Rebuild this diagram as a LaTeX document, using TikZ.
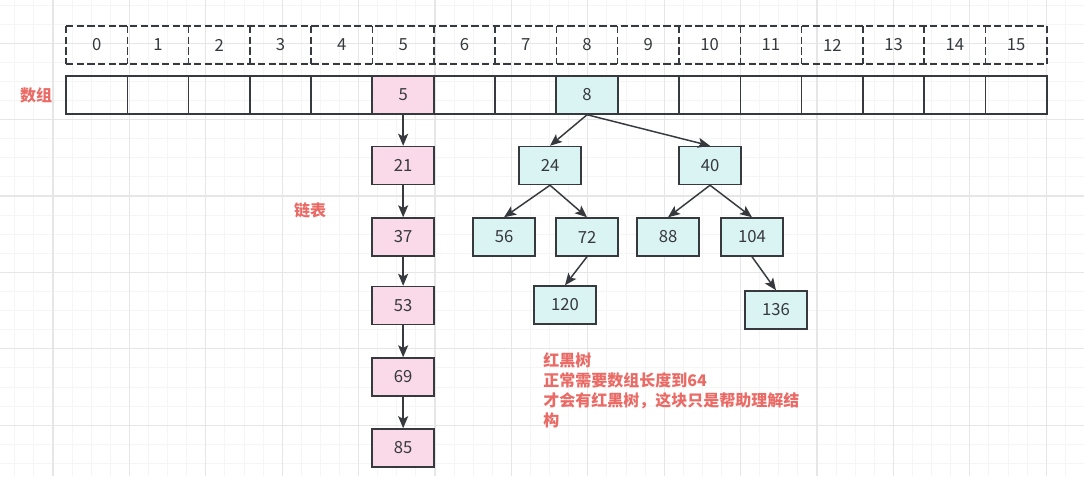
\documentclass[tikz,border=0pt]{standalone}
\usepackage{fontspec}
\setmainfont{Noto Sans CJK SC}
\usetikzlibrary{positioning}
\usetikzlibrary{arrows.meta}

\definecolor{inkgray}{RGB}{54,57,61}
\definecolor{notered}{RGB}{234,107,102}
\definecolor{listpink}{RGB}{250,217,233}
\definecolor{treecyan}{RGB}{218,243,243}
\definecolor{gridminor}{RGB}{245,245,245}
\definecolor{gridmajor}{RGB}{230,230,230}

\tikzset{
  cell/.style={draw=inkgray, line width=1.1pt, minimum width=46pt,
    minimum height=28.5pt, inner sep=0pt, text=inkgray,
    font=\fontsize{12.5}{14}\selectfont},
  idxcell/.style={cell, draw=none, outer sep=0pt},
  idxline/.style={draw=inkgray, line width=1.1pt, dash pattern=on 5.5pt off 2.5pt},
  listnode/.style={cell, fill=listpink, minimum width=46.5pt},
  treenode/.style={cell, fill=treecyan, minimum width=46.5pt},
  link/.style={draw=inkgray, line width=1.1pt,
    -{Stealth[length=9pt,width=7.5pt,inset=2pt]}},
  note/.style={text=notered, font=\fontsize{12}{15}\selectfont\bfseries},
}

\begin{document}
\begin{tikzpicture}[x=0.75pt, y=-0.75pt]
  \useasboundingbox (0,0) rectangle (1084,476);
  \fill[white] (0,0) rectangle (1084,476);

  % background grid
  \begin{scope}
    \clip (0,0) rectangle (1084,476);
    \foreach \k in {-3,...,56}
      \draw[gridminor, line width=0.75pt] (53+19.1*\k,0) -- (53+19.1*\k,476);
    \foreach \k in {-3,...,23}
      \draw[gridminor, line width=0.75pt] (0,43.2+19.1*\k) -- (1084,43.2+19.1*\k);
    \foreach \k in {-1,...,14}
      \draw[gridmajor, line width=0.9pt] (53+76.4*\k,0) -- (53+76.4*\k,476);
    \foreach \k in {-1,...,6}
      \draw[gridmajor, line width=0.9pt] (0,43.2+76.4*\k) -- (1084,43.2+76.4*\k);
  \end{scope}

  % index row and array row
  \foreach \i in {0,...,15}
    \node[idxcell] (idx\i) at (96.65+61.3*\i,45) {\i};
  \draw[idxline] (idx0.north west) -- (idx15.north east);
  \draw[idxline] (idx0.south west) -- (idx15.south east);
  \foreach \i in {0,...,15}
    \draw[idxline] (idx\i.north west) -- (idx\i.south west);
  \draw[idxline] (idx15.north east) -- (idx15.south east);

  \foreach \i in {0,...,15}
    \node[cell] (arr\i) at (96.65+61.3*\i,95) {};
  \node[listnode] (head5) at (arr5) {5};
  \node[treenode] (root8) at (arr8) {8};

  \node[note] (arrlabel) at (36,95) {数组};
  \node[note] (listlabel) at (310,210) {链表};

  % linked list
  \node[listnode, below=23.3pt of head5] (l21) {21};
  \node[listnode, below=24pt of l21] (l37) {37};
  \node[listnode, below=21.8pt of l37] (l53) {53};
  \node[listnode, below=24pt of l53] (l69) {69};
  \node[listnode, below=23.6pt of l69] (l85) {85};

  % red-black tree
  \node[treenode] (t24) at (550,165.5) {24};
  \node[treenode] (t40) at (710,165.5) {40};
  \node[treenode] (t56) at (504,237) {56};
  \node[treenode] (t72) at (587,237) {72};
  \node[treenode] (t88) at (668,237) {88};
  \node[treenode] (t104) at (752,237) {104};
  \node[treenode] (t120) at (565,305) {120};
  \node[treenode] (t136) at (776,310) {136};

  \node[note, align=left, anchor=north west, inner sep=0pt] (treenote) at (543,352)
    {红黑树\\正常需要数组长度到64\\才会有红黑树，这块只是帮助理解结\\构};

  \foreach \a/\b in {head5/l21, l21/l37, l37/l53, l53/l69, l69/l85}
    \draw[link] (\a) -- (\b);
  \foreach \a/\b in {root8/t24, root8/t40, t24/t56, t24/t72, t40/t88,
      t40/t104, t72/t120, t104/t136}
    \draw[link] (\a.south) -- (\b.north);
\end{tikzpicture}
\end{document}
